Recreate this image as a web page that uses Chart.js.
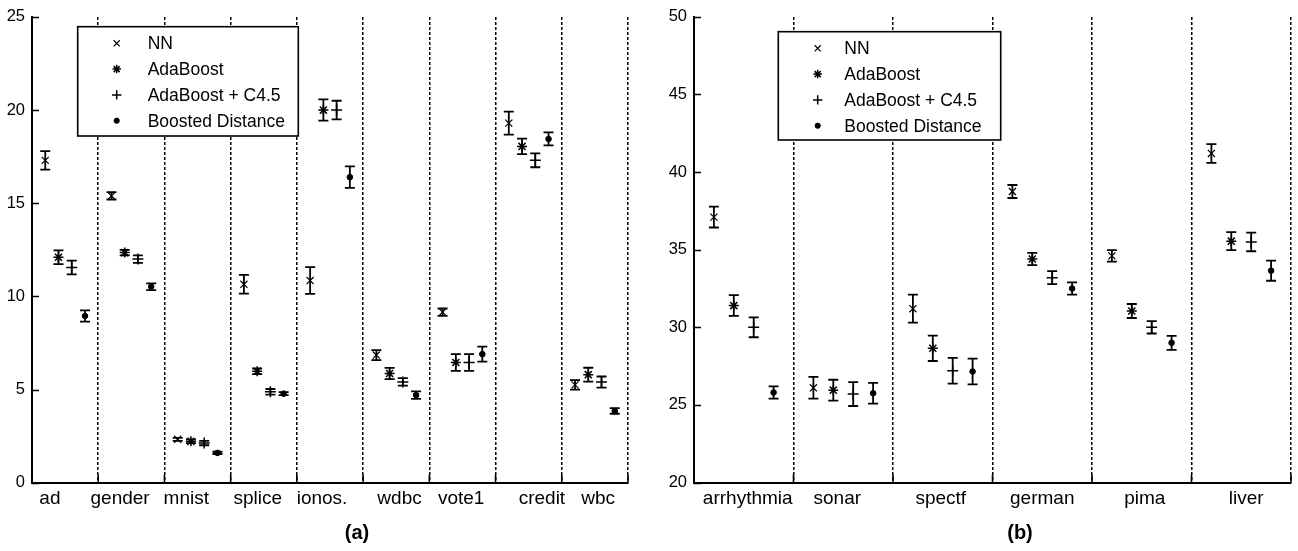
<!DOCTYPE html>
<html>
<head>
<meta charset="utf-8">
<script src="https://cdn.jsdelivr.net/npm/chart.js@4/dist/chart.umd.min.js"></script>
<style>
  html, body { margin: 0; padding: 0; background: #fff; }
  body { width: 1298px; height: 551px; position: relative; overflow: hidden; }
  canvas { position: absolute; top: 0; }
  #cA { left: 0; }
  #cB { left: 650px; }
  .cap { position: absolute; top: 521px; font: bold 20px 'Liberation Sans', Arial, sans-serif; color: #000; transform: translateX(-50%); line-height: 22px; }
</style>
</head>
<body>
<canvas id="cA" width="645" height="551"></canvas>
<canvas id="cB" width="648" height="551"></canvas>
<div class="cap" style="left:357px">(a)</div>
<div class="cap" style="left:1020px">(b)</div>
<script>
// ---------------- data ----------------
const methods = ['NN', 'AdaBoost', 'AdaBoost + C4.5', 'Boosted Distance'];

const catsA    = ['ad', 'gender', 'mnist', 'splice', 'ionos.', 'wdbc', 'vote1', 'credit', 'wbc'];
const labelAtA = [0.27, 1.33, 2.33, 3.41, 4.38, 5.55, 6.48, 7.7, 8.55];   // x-tick label positions
const nnA      = [17.3, 15.4, 2.33, 10.65, 10.85, 6.85, 9.15, 19.3, 5.25];
const nnErrA   = [0.5, 0.2, 0.08, 0.5, 0.72, 0.27, 0.2, 0.62, 0.25];
const adaA     = [12.1, 12.35, 2.22, 5.98, 20.0, 5.86, 6.45, 18.05, 5.8];
const adaErrA  = [0.37, 0.15, 0.1, 0.15, 0.57, 0.3, 0.45, 0.42, 0.37];
const c45A     = [11.55, 12.0, 2.13, 4.88, 20.0, 5.41, 6.45, 17.3, 5.4];
const c45ErrA  = [0.37, 0.2, 0.12, 0.15, 0.5, 0.2, 0.45, 0.37, 0.3];
const bdA      = [8.95, 10.52, 1.6, 4.78, 16.4, 4.7, 6.9, 18.45, 3.85];
const bdErrA   = [0.3, 0.18, 0.06, 0.08, 0.58, 0.2, 0.4, 0.35, 0.15];
const yTicksA  = [0, 5, 10, 15, 20, 25];

const catsB    = ['arrhythmia', 'sonar', 'spectf', 'german', 'pima', 'liver'];
const labelAtB = [0.54, 1.44, 2.48, 3.5, 4.53, 5.55];
const nnB      = [37.1, 26.1, 31.2, 38.75, 34.6, 41.2];
const nnErrB   = [0.67, 0.7, 0.9, 0.42, 0.37, 0.6];
const adaB     = [31.4, 25.95, 28.65, 34.4, 31.05, 35.55];
const adaErrB  = [0.67, 0.67, 0.82, 0.4, 0.45, 0.58];
const c45B     = [30.0, 25.7, 27.2, 33.2, 30.0, 35.5];
const c45ErrB  = [0.64, 0.77, 0.83, 0.42, 0.4, 0.6];
const bdB      = [25.8, 25.75, 27.15, 32.5, 29.0, 33.65];
const bdErrB   = [0.4, 0.67, 0.83, 0.4, 0.45, 0.65];
const yTicksB  = [20, 25, 30, 35, 40, 45, 50];

// ---------------- styles ----------------
Chart.defaults.font.family = "'Liberation Sans', Arial, Helvetica, sans-serif";
Chart.defaults.color = '#000';
const FONT = "'Liberation Sans', Arial, Helvetica, sans-serif";
const slotOffsets = [0.2, 0.4, 0.6, 0.8];
const markerStyles = [
  { pointStyle: 'crossRot', radius: 5, borderWidth: 1.2 },
  { pointStyle: 'star', radius: 5, borderWidth: 1.5 },
  { pointStyle: 'cross', radius: 5.5, borderWidth: 1.5 },
  { pointStyle: 'circle', radius: 2.8, borderWidth: 1 }
];

function buildDatasets(cats, vals, errs) {
  return methods.map((name, m) => ({
    label: name,
    data: cats.map((c, i) => ({ x: i + slotOffsets[m], y: vals[m][i], e: errs[m][i] })),
    pointStyle: markerStyles[m].pointStyle,
    pointRadius: markerStyles[m].radius,
    pointBorderWidth: markerStyles[m].borderWidth,
    pointBackgroundColor: '#000',
    pointBorderColor: '#000',
    showLine: false
  }));
}

const errorBars = {
  id: 'errorBars',
  beforeDatasetsDraw(chart) {
    const { ctx, scales: { x, y } } = chart;
    ctx.save();
    ctx.strokeStyle = '#000';
    ctx.lineWidth = 1.8;
    chart.data.datasets.forEach(ds => {
      ds.data.forEach(p => {
        const px = x.getPixelForValue(p.x);
        const lo = y.getPixelForValue(p.y - p.e);
        const hi = y.getPixelForValue(p.y + p.e);
        ctx.beginPath();
        ctx.moveTo(px, lo); ctx.lineTo(px, hi);
        ctx.moveTo(px - 5, lo); ctx.lineTo(px + 5, lo);
        ctx.moveTo(px - 5, hi); ctx.lineTo(px + 5, hi);
        ctx.stroke();
      });
    });
    ctx.restore();
  }
};

const inwardTicks = {
  id: 'inwardTicks',
  afterDraw(chart) {
    const { ctx, chartArea: a, scales: { x, y } } = chart;
    ctx.save();
    ctx.strokeStyle = '#000';
    ctx.lineWidth = 1.6;
    ctx.beginPath();
    y.ticks.forEach(t => {
      const py = Math.round(y.getPixelForValue(t.value)) + 0.5;
      ctx.moveTo(a.left, py); ctx.lineTo(a.left + 7, py);
    });
    x.ticks.forEach(t => {
      if (Number.isInteger(t.value) && t.value > x.min) {
        const px = x.getPixelForValue(t.value);
        ctx.moveTo(px, a.bottom); ctx.lineTo(px, a.bottom - 8);
      }
    });
    ctx.stroke();
    ctx.restore();
  }
};

const boxLegend = {
  id: 'boxLegend',
  afterDraw(chart, args, opts) {
    const { ctx } = chart;
    ctx.save();
    ctx.fillStyle = '#fff';
    ctx.fillRect(opts.left, opts.top, opts.width, opts.height);
    ctx.strokeStyle = '#000';
    ctx.lineWidth = 1.6;
    ctx.strokeRect(opts.left, opts.top, opts.width, opts.height);
    chart.data.datasets.forEach((ds, i) => {
      const cy = opts.top + opts.firstRow + i * opts.rowGap;
      const mx = opts.left + opts.markerX;
      ctx.fillStyle = '#000';
      ctx.strokeStyle = '#000';
      ctx.lineWidth = ds.pointBorderWidth;
      Chart.helpers.drawPoint(ctx, {
        pointStyle: ds.pointStyle,
        radius: ds.pointStyle === 'circle' ? 2.6 : ds.pointRadius * 0.85,
        rotation: 0,
        borderWidth: ds.pointBorderWidth
      }, mx, cy);
      ctx.fillStyle = '#000';
      ctx.font = opts.fontSize + 'px ' + FONT;
      ctx.textBaseline = 'middle';
      ctx.textAlign = 'left';
      ctx.fillText(ds.label, opts.left + opts.textX, cy + 1);
    });
    ctx.restore();
  }
};

function makeChart(id, cats, labelAt, vals, errs, yTicks, layout, legendBox) {
  const n = cats.length;
  return new Chart(document.getElementById(id), {
    type: 'scatter',
    data: { datasets: buildDatasets(cats, vals, errs) },
    plugins: [errorBars, inwardTicks, boxLegend],
    options: {
      responsive: false,
      animation: false,
      events: [],
      layout: { padding: layout.padding },
      plugins: {
        legend: { display: false },
        tooltip: { enabled: false },
        boxLegend: legendBox
      },
      scales: {
        x: {
          type: 'linear',
          min: 0, max: n,
          afterBuildTicks: axis => {
            const vals = [];
            for (let v = 0; v <= n; v++) vals.push(v);
            labelAt.forEach(v => vals.push(v));
            vals.sort((a, b) => a - b);
            axis.ticks = vals.map(v => ({ value: v }));
          },
          afterFit: s => { s.height = 40; },
          ticks: {
            autoSkip: false, maxRotation: 0, minRotation: 0,
            padding: 5,
            font: { size: 19 },
            color: '#000',
            callback: v => { const k = labelAt.indexOf(v); return k >= 0 ? cats[k] : ''; }
          },
          grid: {
            drawTicks: false,
            lineWidth: 1.5,
            color: c => (c.tick && Number.isInteger(c.tick.value) && c.tick.value > 0) ? '#000' : 'rgba(0,0,0,0)'
          },
          border: { display: true, color: '#000', width: 2, dash: [3, 2] }
        },
        y: {
          min: yTicks[0], max: yTicks[yTicks.length - 1],
          afterBuildTicks: axis => { axis.ticks = yTicks.map(v => ({ value: v })); },
          afterFit: s => { s.width = layout.yWidth; },
          ticks: { padding: 7, font: { size: 16.5 }, color: '#000' },
          grid: { display: false, drawTicks: false },
          border: { display: true, color: '#000', width: 2 }
        }
      }
    }
  });
}

makeChart('cA', catsA, labelAtA, [nnA, adaA, c45A, bdA], [nnErrA, adaErrA, c45ErrA, bdErrA], yTicksA,
  { padding: { left: 0, top: 14, right: 17, bottom: 28.3 }, yWidth: 32 },
  { left: 77.7, top: 26.7, width: 220.6, height: 109.3, firstRow: 16.6, rowGap: 25.8, markerX: 39, textX: 70, fontSize: 17.5 });

makeChart('cB', catsB, labelAtB, [nnB, adaB, c45B, bdB], [nnErrB, adaErrB, c45ErrB, bdErrB], yTicksB,
  { padding: { left: 0, top: 11, right: 6, bottom: 28.5 }, yWidth: 44 },
  { left: 128.3, top: 31.7, width: 222.4, height: 108.3, firstRow: 16.6, rowGap: 25.8, markerX: 39.4, textX: 66, fontSize: 17.5 });
</script>
</body>
</html>
